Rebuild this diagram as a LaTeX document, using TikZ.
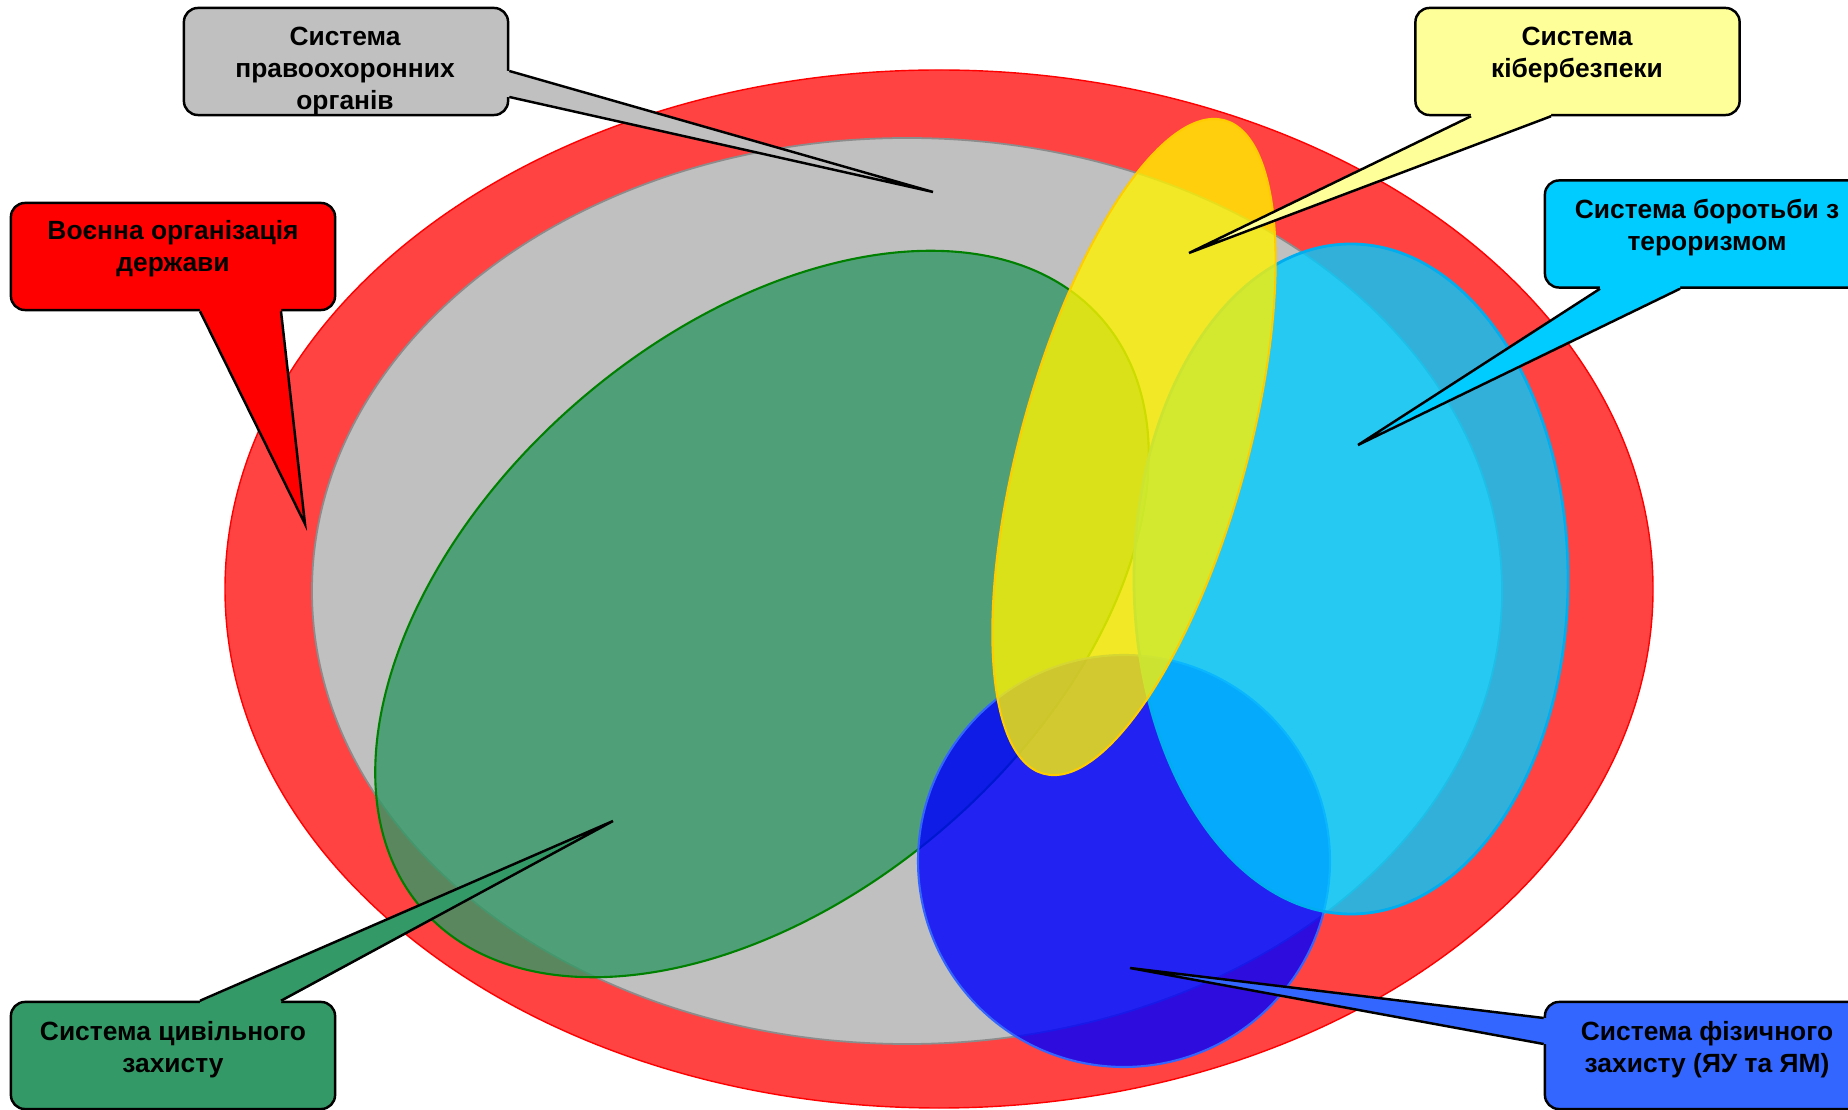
\documentclass[tikz,border=0pt]{standalone}
\usepackage{fontspec}
\setmainfont{Liberation Sans}

\definecolor{bgred}{HTML}{FF4343}
\definecolor{bggray}{HTML}{C0C0C0}
\definecolor{bggrayline}{HTML}{8C8C8C}
\definecolor{cgreen}{HTML}{339966}
\definecolor{cgreenline}{HTML}{008000}
\definecolor{cblue}{HTML}{3366FF}
\definecolor{ccyan}{HTML}{00CCFF}
\definecolor{cyellow}{HTML}{FFFF99}
\definecolor{yellowline}{HTML}{FFCC00}

\begin{document}
\begin{tikzpicture}[x=0.01cm,y=-0.01cm,
  box/.style={draw,line width=0.7pt,rounded corners=0.14cm,
    minimum width=3.24cm,minimum height=1.07cm,inner sep=0pt},
  lbl/.style={font=\fontsize{7.5}{9.1}\selectfont\bfseries,align=center},
  beak/.style={draw,line width=0.7pt,line join=miter}]
  % Picture size in pixels of the original.
  \useasboundingbox (0,0) rectangle (1848,1110);
  \clip (0,0) rectangle (1848,1110);

  % Military organisation and law enforcement.
  \filldraw[fill=bgred,draw=red,line width=0.4pt] (939,589) ellipse (714 and 519);
  \filldraw[fill=bggray,draw=bggrayline,line width=0.5pt] (907,591) ellipse (595 and 453);

  % Overlapping subsystems.
  \filldraw[fill=cgreen,fill opacity=0.8,draw=cgreenline,line width=0.6pt,
    rotate around={40.9:(762,614)}] (762,614) ellipse (450 and 281);
  \filldraw[fill=blue,fill opacity=0.82,draw=cblue,line width=0.6pt] (1124,861) circle (206);
  \filldraw[fill=ccyan,fill opacity=0.8,draw=cyan,line width=0.8pt] (1351,579) ellipse (217 and 335);
  \filldraw[fill=yellow,fill opacity=0.8,draw=yellowline,line width=0.6pt,
    rotate around={74.5:(1134,447)}] (1134,447) ellipse (339 and 113);

  % Callout boxes.
  \node[box,fill=bggray] (pravobox) at (346,61.5) {};
  \node[box,fill=cyellow] (kiberbox) at (1577.5,61.5) {};
  \node[box,fill=red] (voennabox) at (173,256.5) {};
  \node[box,fill=ccyan] (terorbox) at (1707,234) {};
  \node[box,fill=cgreen] (tsyvbox) at (173,1055.5) {};
  \node[box,fill=cblue] (fizbox) at (1707,1055.5) {};

  % Pointer ends.
  \coordinate (pravotip) at (933,192);
  \coordinate (kibertip) at (1189,253);
  \coordinate (voennatip) at (305,524);
  \coordinate (terortip) at (1358,445);
  \coordinate (tsyvtip) at (613,821);
  \coordinate (fiztip) at (1130,968);

  % Pointers.
  \fill[bggray] (500,71) -- (508,71) -- (pravotip) -- (508,97) -- (500,97) -- cycle;
  \draw[beak] (pravobox.east |- 0,71) -- (pravotip) -- (pravobox.east |- 0,97);
  \fill[cyellow] (1471,107) -- (1471,115) -- (kibertip) -- (1551,115) -- (1551,107) -- cycle;
  \draw[beak] (kiberbox.south -| 1471,0) -- (kibertip) -- (kiberbox.south -| 1551,0);
  \fill[red] (200,302) -- (200,310) -- (voennatip) -- (281,310) -- (281,302) -- cycle;
  \draw[beak] (voennabox.south -| 200,0) -- (voennatip) -- (voennabox.south -| 281,0);
  \fill[ccyan] (1600,280) -- (1600,288) -- (terortip) -- (1680,288) -- (1680,280) -- cycle;
  \draw[beak] (terorbox.south -| 1600,0) -- (terortip) -- (terorbox.south -| 1680,0);
  \fill[cgreen] (200,1010) -- (200,1002) -- (tsyvtip) -- (281,1002) -- (281,1010) -- cycle;
  \draw[beak] (tsyvbox.north -| 200,0) -- (tsyvtip) -- (tsyvbox.north -| 281,0);
  \fill[cblue] (1553,1018) -- (1545,1018) -- (fiztip) -- (1545,1044) -- (1553,1044) -- cycle;
  \draw[beak] (fizbox.west |- 0,1018) -- (fiztip) -- (fizbox.west |- 0,1044);

  % Labels.
  \node[lbl] (pravo) at (345,71) {Система\\правоохоронних\\органів};
  \node[lbl] (kiber) at (1577,55) {Система\\кібербезпеки};
  \node[lbl] (voenna) at (173,249) {Воєнна організація\\держави};
  \node[lbl] (teror) at (1707,228) {Система боротьби з\\тероризмом};
  \node[lbl] (tsyv) at (173,1050) {Система цивільного\\захисту};
  \node[lbl] (fiz) at (1707,1050) {Система фізичного\\захисту (ЯУ та ЯМ)};
\end{tikzpicture}
\end{document}
